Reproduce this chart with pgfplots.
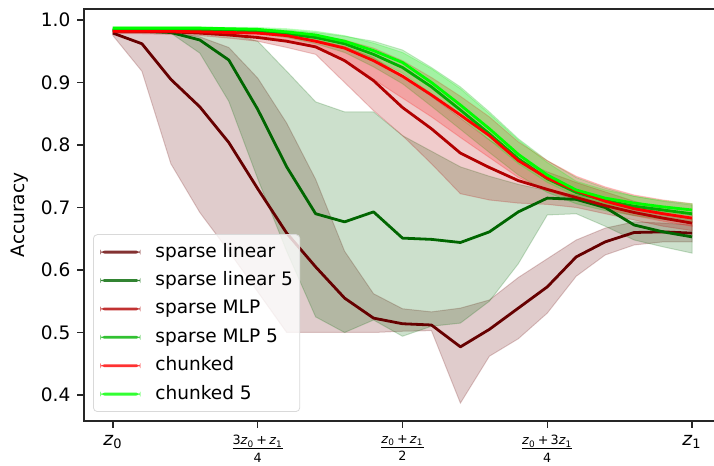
\documentclass[border=0pt]{standalone}
\usepackage{fontspec}
\setmainfont{DejaVu Sans}
\usepackage{pgfplots}
\pgfplotsset{compat=1.18}
\usepackage{pgfplotstable}
\usepgfplotslibrary{fillbetween}

\definecolor{cSL}{rgb}{0.4,0,0}
\definecolor{cSLF}{rgb}{0,0.4,0}
\definecolor{cMLP}{rgb}{0.7,0,0}
\definecolor{cMLPF}{rgb}{0,0.7,0}
\definecolor{cCH}{rgb}{1,0,0}
\definecolor{cCHF}{rgb}{0,1,0}

% mean accuracy (m) with lower / upper band (lo, hi) along the path z0 -> z1
\pgfplotstableread{
x    m     lo    hi
0    0.979 0.975 0.983
0.05 0.962 0.918 0.982
0.10 0.905 0.770 0.980
0.15 0.861 0.692 0.973
0.20 0.804 0.630 0.956
0.25 0.730 0.565 0.907
0.30 0.659 0.500 0.835
0.35 0.605 0.500 0.745
0.40 0.555 0.500 0.630
0.45 0.523 0.500 0.562
0.50 0.514 0.502 0.538
0.55 0.512 0.503 0.533
0.60 0.477 0.387 0.539
0.65 0.505 0.462 0.552
0.70 0.539 0.490 0.588
0.75 0.573 0.531 0.618
0.80 0.621 0.590 0.648
0.85 0.645 0.624 0.667
0.90 0.660 0.640 0.677
0.95 0.661 0.645 0.675
1.00 0.659 0.645 0.672
}\dSL

\pgfplotstableread{
x    m     lo    hi
0    0.983 0.981 0.985
0.05 0.982 0.980 0.985
0.10 0.980 0.979 0.985
0.15 0.968 0.947 0.984
0.20 0.936 0.870 0.978
0.25 0.857 0.746 0.966
0.30 0.765 0.630 0.918
0.35 0.690 0.525 0.869
0.40 0.677 0.500 0.853
0.45 0.693 0.520 0.853
0.50 0.651 0.494 0.815
0.55 0.649 0.510 0.790
0.60 0.644 0.515 0.765
0.65 0.661 0.550 0.750
0.70 0.693 0.610 0.737
0.75 0.715 0.688 0.727
0.80 0.713 0.690 0.720
0.85 0.700 0.670 0.712
0.90 0.672 0.648 0.702
0.95 0.661 0.637 0.692
1.00 0.653 0.627 0.682
}\dSLF

\pgfplotstableread{
x    m     lo    hi
0    0.982 0.978 0.985
0.05 0.982 0.978 0.985
0.10 0.981 0.977 0.984
0.15 0.979 0.975 0.983
0.20 0.976 0.971 0.981
0.25 0.972 0.966 0.978
0.30 0.966 0.956 0.975
0.35 0.957 0.945 0.968
0.40 0.935 0.900 0.958
0.45 0.903 0.855 0.940
0.50 0.860 0.815 0.910
0.55 0.826 0.770 0.878
0.60 0.787 0.722 0.843
0.65 0.764 0.712 0.808
0.70 0.743 0.707 0.778
0.75 0.729 0.705 0.757
0.80 0.716 0.700 0.740
0.85 0.703 0.690 0.725
0.90 0.692 0.680 0.710
0.95 0.683 0.670 0.698
1.00 0.675 0.663 0.688
}\dMLP

\pgfplotstableread{
x    m     lo    hi
0    0.985 0.983 0.987
0.05 0.985 0.983 0.987
0.10 0.985 0.983 0.987
0.15 0.985 0.983 0.987
0.20 0.984 0.981 0.987
0.25 0.982 0.978 0.986
0.30 0.978 0.972 0.984
0.35 0.972 0.962 0.980
0.40 0.962 0.948 0.974
0.45 0.945 0.925 0.966
0.50 0.924 0.898 0.952
0.55 0.893 0.862 0.924
0.60 0.856 0.825 0.893
0.65 0.818 0.788 0.853
0.70 0.778 0.752 0.810
0.75 0.746 0.724 0.775
0.80 0.724 0.706 0.748
0.85 0.711 0.695 0.731
0.90 0.702 0.687 0.718
0.95 0.696 0.681 0.710
1.00 0.690 0.676 0.704
}\dMLPF

\pgfplotstableread{
x    m     lo    hi
0    0.982 0.979 0.985
0.05 0.982 0.979 0.985
0.10 0.982 0.979 0.985
0.15 0.981 0.978 0.984
0.20 0.980 0.976 0.983
0.25 0.979 0.974 0.983
0.30 0.975 0.968 0.980
0.35 0.966 0.955 0.975
0.40 0.955 0.935 0.968
0.45 0.935 0.905 0.955
0.50 0.910 0.875 0.935
0.55 0.880 0.845 0.908
0.60 0.848 0.812 0.878
0.65 0.815 0.780 0.845
0.70 0.775 0.748 0.805
0.75 0.747 0.727 0.775
0.80 0.727 0.712 0.750
0.85 0.710 0.698 0.733
0.90 0.698 0.687 0.720
0.95 0.690 0.678 0.712
1.00 0.683 0.670 0.706
}\dCH

\pgfplotstableread{
x    m     lo    hi
0    0.987 0.985 0.989
0.05 0.987 0.985 0.989
0.10 0.987 0.985 0.989
0.15 0.987 0.985 0.989
0.20 0.986 0.984 0.988
0.25 0.985 0.982 0.988
0.30 0.981 0.977 0.986
0.35 0.976 0.969 0.982
0.40 0.966 0.956 0.975
0.45 0.951 0.938 0.963
0.50 0.932 0.915 0.948
0.55 0.900 0.882 0.922
0.60 0.864 0.846 0.890
0.65 0.826 0.808 0.850
0.70 0.785 0.770 0.808
0.75 0.752 0.740 0.772
0.80 0.728 0.718 0.742
0.85 0.715 0.706 0.728
0.90 0.707 0.698 0.718
0.95 0.701 0.692 0.711
1.00 0.696 0.687 0.706
}\dCHF

\newcommand\zz[1]{\textit{z}\textsubscript{#1}}
\newcommand\fr[2]{$\textstyle\frac{\mbox{\fontsize{6.4}{7}\selectfont\rule[-1.3bp]{0pt}{0pt}#1}}{\mbox{\fontsize{6.4}{7}\selectfont\rule{0pt}{6.2bp}#2}}$}

% shaded band between lo and hi of a table
\newcommand\band[3]{%
  \addplot[draw=none, name path=#2hi, forget plot] table[x=x,y=hi]{#1};
  \addplot[draw=none, name path=#2lo, forget plot] table[x=x,y=lo]{#1};
  \addplot[fill=#3, fill opacity=0.2, draw=#3, draw opacity=0.2, line width=0.5bp, forget plot] fill between[of=#2hi and #2lo];
}
% legend key: short bar in the series colour
\newcommand\key[2]{%
  \addlegendimage{fill=#1, draw=none}
  \addlegendentry{#2}
}

\begin{document}
\begin{tikzpicture}
\begin{axis}[
  scale only axis, width=318.5bp, height=206bp,
  font=\fontsize{9.3}{11}\selectfont,
  xmin=-0.05, xmax=1.05, ymin=0.3584, ymax=1.0176,
  axis line style={black!85, line width=0.75bp},
  tick style={black!85, line width=0.75bp},
  major tick length=3.3bp, tick align=outside,
  xtick pos=bottom, ytick pos=left,
  ytick={0.4,0.5,0.6,0.7,0.8,0.9,1.0},
  /pgf/number format/assume math mode=true,
  yticklabel style={/pgf/number format/fixed, /pgf/number format/fixed zerofill, /pgf/number format/precision=1, inner sep=0pt, xshift=-3.3bp},
  xtick={0,0.25,0.5,0.75,1},
  xticklabels={\zz{0}, \fr{3\zz{0}\,+\,\zz{1}}{4}, \fr{\zz{0}\,+\,\zz{1}}{2}, \fr{\zz{0}\,+\,3\zz{1}}{4}, \zz{1}},
  xticklabel style={inner sep=0pt, anchor=north, yshift=-3.6bp},
  ylabel={Accuracy},
  ylabel style={at={(axis description cs:-0.1005,0.5)}, anchor=center},
  legend cell align=left,
  legend image code/.code={\path[#1] (0bp,-0.7bp) rectangle (20bp,0.7bp);},
  legend style={at={(axis description cs:0,0)}, anchor=south west, xshift=4.5bp, yshift=4.5bp,
    draw=black!15, fill=white, fill opacity=0.8, text opacity=1, rounded corners=2bp,
    inner xsep=3.5bp, inner ysep=4bp, row sep=4.7bp,
    nodes={inner sep=0pt, text height=7.2bp, text depth=2.3bp},
    /tikz/column 1/.style={column sep=7.5bp}},
  every axis plot/.append style={line width=1.4bp, line join=round},
]
\key{cSL}{sparse linear}
\key{cSLF}{sparse linear 5}
\key{cMLP}{sparse MLP}
\key{cMLPF}{sparse MLP 5}
\key{cCH}{chunked}
\key{cCHF}{chunked 5}

\band{\dSL}{a}{cSL}
\band{\dSLF}{b}{cSLF}
\band{\dMLP}{c}{cMLP}
\band{\dMLPF}{d}{cMLPF}
\band{\dCH}{e}{cCH}
\band{\dCHF}{f}{cCHF}

\addplot[cSL, forget plot] table[x=x,y=m]{\dSL};
\addplot[cSLF, forget plot] table[x=x,y=m]{\dSLF};
\addplot[cMLP, forget plot] table[x=x,y=m]{\dMLP};
\addplot[cMLPF, forget plot] table[x=x,y=m]{\dMLPF};
\addplot[cCH, forget plot] table[x=x,y=m]{\dCH};
\addplot[cCHF, forget plot] table[x=x,y=m]{\dCHF};

\coordinate (bl) at (rel axis cs:0,0);
\coordinate (tl) at (rel axis cs:0,1);
\end{axis}
\pgfresetboundingbox
\path ([shift={(-42bp,-22.5bp)}]bl) rectangle ([shift={(315bp,4.5bp)}]tl);
\end{tikzpicture}
\end{document}
